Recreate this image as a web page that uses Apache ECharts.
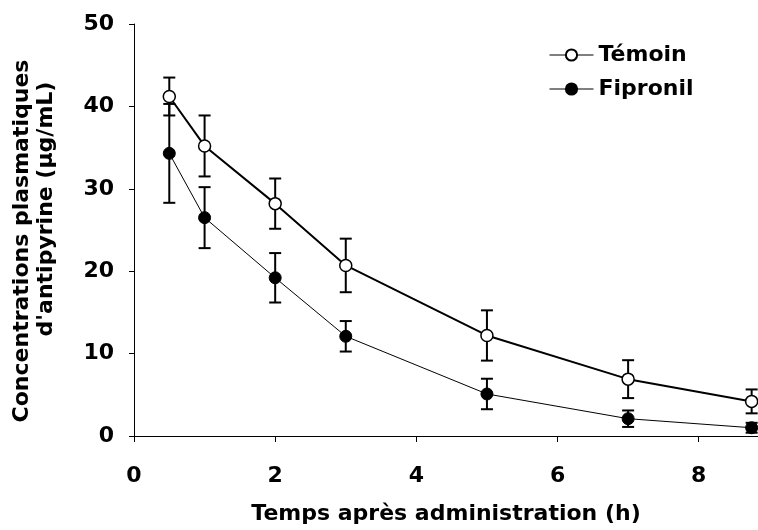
<!DOCTYPE html>
<html>
<head>
<meta charset="utf-8">
<script src="https://cdn.jsdelivr.net/npm/echarts@6/dist/echarts.min.js"></script>
<style>html,body{margin:0;padding:0;background:#fff;}#c{width:758px;height:530px;}</style>
</head>
<body>
<div id="c"></div>
<script>
const times = [0.5, 1, 2, 3, 5, 7, 8.75];
const temoin = [41.2, 35.2, 28.2, 20.7, 12.2, 6.9, 4.2];
const temoinErr = [2.3, 3.7, 3.05, 3.25, 3.05, 2.3, 1.45];
const fipronil = [34.3, 26.5, 19.2, 12.1, 5.1, 2.1, 1.0];
const fipronilErr = [6.0, 3.7, 3.0, 1.85, 1.85, 1.0, 0.6];
const xTicks = [0, 2, 4, 6, 8];
const seriesNames = ['Témoin', 'Fipronil'];

const FONT = 'DejaVu Sans';
const chart = echarts.init(document.getElementById('c'), null, {renderer: 'canvas'});

function pairs(vals) { return times.map((t, i) => [t, vals[i]]); }
function errs(vals, e) { return times.map((t, i) => [t, vals[i] - e[i], vals[i] + e[i]]); }

function renderErr(params, api) {
  const x = api.value(0), lo = api.value(1), hi = api.value(2);
  const a = api.coord([x, hi]), b = api.coord([x, lo]);
  const hw = 6;
  const st = {stroke: '#000', lineWidth: 2};
  return {type: 'group', children: [
    {type: 'line', shape: {x1: a[0], y1: a[1], x2: b[0], y2: b[1]}, style: st},
    {type: 'line', shape: {x1: a[0] - hw, y1: a[1], x2: a[0] + hw, y2: a[1]}, style: st},
    {type: 'line', shape: {x1: b[0] - hw, y1: b[1], x2: b[0] + hw, y2: b[1]}, style: st}
  ]};
}

const option = {
  backgroundColor: '#fff',
  animation: false,
  grid: {left: 134, right: 0, top: 24, bottom: 89},
  legend: {
    orient: 'vertical', left: 549, top: 44, padding: 0,
    data: seriesNames,
    itemWidth: 44, itemHeight: 14, itemGap: 12,
    lineStyle: {width: 1},
    textStyle: {fontFamily: FONT, fontSize: 22, fontWeight: 'bold', color: '#000', lineHeight: 22}
  },
  xAxis: {
    type: 'value', min: 0, max: 8.84,
    axisLine: {lineStyle: {color: '#000', width: 1}},
    axisTick: {show: true, length: 6, lineStyle: {color: '#000'}, customValues: xTicks},
    axisLabel: {customValues: xTicks, margin: 29, fontFamily: FONT, fontSize: 22, fontWeight: 'bold', color: '#000'},
    splitLine: {show: false},
    name: 'Temps après administration (h)', nameLocation: 'middle', nameGap: 67,
    nameTextStyle: {fontFamily: FONT, fontSize: 22, fontWeight: 'bold', color: '#000'}
  },
  yAxis: {
    type: 'value', min: 0, max: 50, interval: 10,
    axisLine: {show: true, lineStyle: {color: '#000', width: 1}},
    axisTick: {show: true, length: 5, lineStyle: {color: '#000'}},
    axisLabel: {margin: 20, fontFamily: FONT, fontSize: 22, fontWeight: 'bold', color: '#000'},
    splitLine: {show: false}
  },
  graphic: [
    {type: 'text', x: 22, y: 241, rotation: Math.PI / 2,
      style: {text: 'Concentrations plasmatiques', align: 'center', verticalAlign: 'middle', font: 'bold 22px "DejaVu Sans"', fill: '#000'}},
    {type: 'text', x: 46, y: 209, rotation: Math.PI / 2,
      style: {text: "d'antipyrine (µg/mL)", align: 'center', verticalAlign: 'middle', font: 'bold 22px "DejaVu Sans"', fill: '#000'}}
  ],
  series: [
    {type: 'custom', renderItem: renderErr, data: errs(temoin, temoinErr), encode: {x: 0, y: [1, 2]}, z: 1, silent: true},
    {type: 'custom', renderItem: renderErr, data: errs(fipronil, fipronilErr), encode: {x: 0, y: [1, 2]}, z: 1, silent: true},
    {name: seriesNames[0], type: 'line', data: pairs(temoin), z: 3,
      symbol: 'circle', symbolSize: 12, showAllSymbol: true,
      lineStyle: {color: '#000', width: 2},
      itemStyle: {color: '#fff', borderColor: '#000', borderWidth: 1.5}},
    {name: seriesNames[1], type: 'line', data: pairs(fipronil), z: 2,
      symbol: 'circle', symbolSize: 12, showAllSymbol: true,
      lineStyle: {color: '#000', width: 1},
      itemStyle: {color: '#000', borderColor: '#000', borderWidth: 1}}
  ]
};
chart.setOption(option);
</script>
</body>
</html>
